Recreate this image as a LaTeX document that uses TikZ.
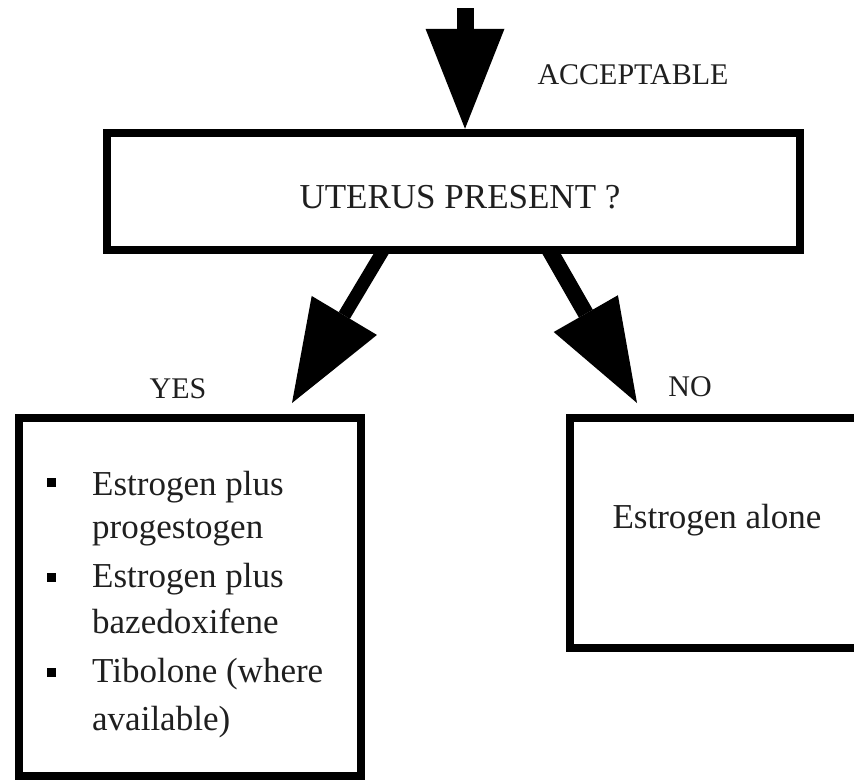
\documentclass[tikz,border=0pt]{standalone}
\usepackage{fontspec}
\setmainfont{Liberation Serif}
\usetikzlibrary{arrows.meta,calc}
\pgfdeclarelayer{bg}
\pgfsetlayers{bg,main}
\begin{document}
\begin{tikzpicture}[x=1pt,y=-1pt,
  box/.style={draw=black, line width=8.5pt, fill=white, inner sep=0pt},
  txt/.style={text=black!88, font=\fontsize{35}{42}\selectfont, inner sep=0pt},
  lbl/.style={text=black!88, font=\fontsize{30}{36}\selectfont, inner sep=0pt},
  blk/.style n args={3}{line width=#1, -{Triangle[length=#2, width=#3, line width=0pt]}},
  sq/.style={fill=black, minimum size=9pt, inner sep=0pt}
]
\clip (0,0) rectangle (854,782);
% boxes
\node[box, minimum width=693pt, minimum height=117pt] (top) at (453.5,191.5) {};
\node[box, minimum width=342pt, minimum height=358pt] (yes) at (190,597) {};
\node[box, minimum width=330pt, minimum height=230pt] (no) at (735,533) {};
% texts
\node[txt, anchor=base] (q) at (460,208) {UTERUS PRESENT ?};
\node[lbl, anchor=base] (acc) at (633,84) {ACCEPTABLE};
\node[lbl, anchor=base] (yl) at (178,398) {YES};
\node[lbl, anchor=base] (nl) at (690,396) {NO};
\node[txt, anchor=base] (ea) at (717,528) {Estrogen alone};
\node[sq] (b1) at (51,482) {};
\node[sq] (b2) at (51,577) {};
\node[sq] (b3) at (51,672) {};
\node[txt, anchor=base west] (y1) at (92,495) {Estrogen plus};
\node[txt, anchor=base west] (y2) at (92,538) {progestogen};
\node[txt, anchor=base west] (y3) at (92,587) {Estrogen plus};
\node[txt, anchor=base west] (y4) at (92,633) {bazedoxifene};
\node[txt, anchor=base west] (y5) at (92,682) {Tibolone (where};
\node[txt, anchor=base west] (y6) at (92,730) {available)};
% arrows
\coordinate (t0) at (465,8);
\coordinate (ltip) at (292,403);
\coordinate (rtip) at (637,403);
\begin{pgfonlayer}{bg}
\fill[white] (0,0) rectangle (854,782);
\draw[blk={17pt}{100pt}{79pt}] (t0) -- (t0 |- top.north);
\draw[blk={13pt}{102pt}{76pt}] ($(top.south west)!0.405!(top.south east)+(0,-10)$) -- (ltip);
\draw[blk={16pt}{103pt}{74pt}] ($(top.south west)!0.632!(top.south east)+(0,-10)$) -- (rtip);
\end{pgfonlayer}
\end{tikzpicture}
\end{document}
